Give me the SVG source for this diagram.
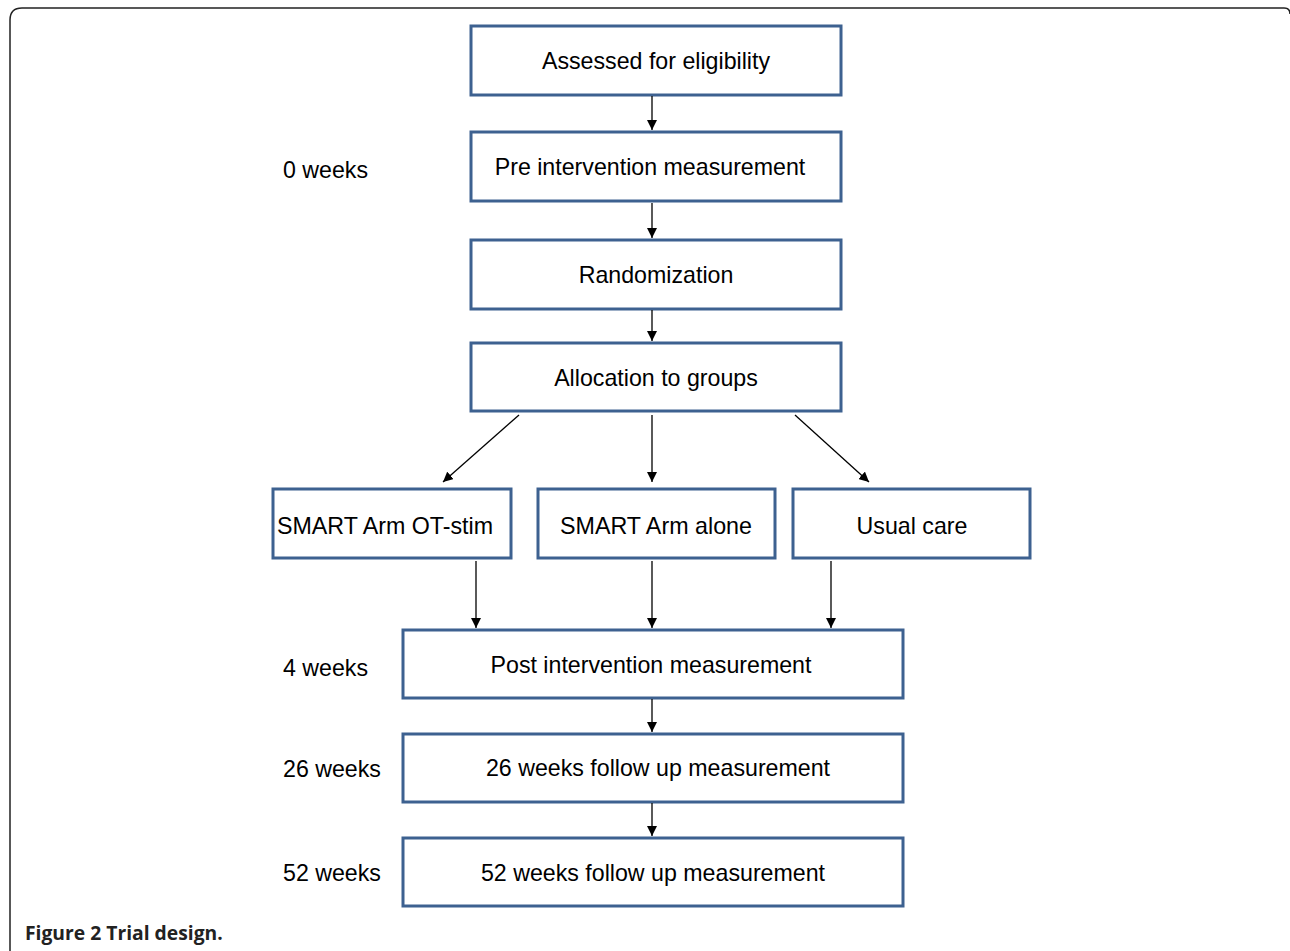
<svg xmlns="http://www.w3.org/2000/svg" width="1290" height="951" viewBox="0 0 1290 951">
<defs>
<marker id="ah" viewBox="0 0 10 10" refX="10" refY="5" markerWidth="10" markerHeight="10" markerUnits="userSpaceOnUse" orient="auto">
<path d="M0,0 L10,5 L0,10 z" fill="#000"/>
</marker>
<style>
.box{fill:#fff;stroke:#3d6190;stroke-width:3}
.t{font-family:"Liberation Sans",Arial,sans-serif;font-size:23.2px;fill:#000;text-anchor:middle}
.l{font-family:"Liberation Sans",Arial,sans-serif;font-size:23.2px;fill:#000}
.c{stroke:#000;stroke-width:1.3;fill:none;marker-end:url(#ah)}
</style>
</defs>
<rect width="1290" height="951" fill="#fff"/>
<path d="M10,951 L10,20 Q10,8 22,8 L1284,8 Q1290,8 1290,14" fill="none" stroke="#222" stroke-width="1.5"/>
<g id="n1"><rect class="box" x="471" y="26" width="370" height="69"/><text class="t" x="656" y="69">Assessed for eligibility</text></g>
<g id="n2"><rect class="box" x="471" y="132" width="370" height="69"/><text class="t" x="650" y="175">Pre intervention measurement</text></g>
<g id="n3"><rect class="box" x="471" y="240" width="370" height="69"/><text class="t" x="656" y="283">Randomization</text></g>
<g id="n4"><rect class="box" x="471" y="343" width="370" height="68"/><text class="t" x="656" y="386">Allocation to groups</text></g>
<g id="n5"><rect class="box" x="273" y="489" width="238" height="69"/><text class="t" x="385" y="534" textLength="216" lengthAdjust="spacingAndGlyphs">SMART Arm OT-stim</text></g>
<g id="n6"><rect class="box" x="538" y="489" width="237" height="69"/><text class="t" x="656" y="534" textLength="192" lengthAdjust="spacingAndGlyphs">SMART Arm alone</text></g>
<g id="n7"><rect class="box" x="793" y="489" width="237" height="69"/><text class="t" x="912" y="534" textLength="111" lengthAdjust="spacingAndGlyphs">Usual care</text></g>
<g id="n8"><rect class="box" x="403" y="630" width="500" height="68"/><text class="t" x="651" y="673">Post intervention measurement</text></g>
<g id="n9"><rect class="box" x="403" y="734" width="500" height="68"/><text class="t" x="658" y="776">26 weeks follow up measurement</text></g>
<g id="n10"><rect class="box" x="403" y="838" width="500" height="68"/><text class="t" x="653" y="881">52 weeks follow up measurement</text></g>
<g id="labels">
<text class="l" x="283" y="178">0 weeks</text>
<text class="l" x="283" y="676">4 weeks</text>
<text class="l" x="283" y="777">26 weeks</text>
<text class="l" x="283" y="881">52 weeks</text>
<text x="25" y="940" font-family="'Open Sans','Noto Sans',sans-serif" font-weight="bold" font-size="19.3" fill="#222">Figure 2 Trial design.</text>
</g>
<g id="connectors">
<line class="c" x1="652" y1="96" x2="652" y2="130"/>
<line class="c" x1="652" y1="203" x2="652" y2="238"/>
<line class="c" x1="652" y1="310" x2="652" y2="341"/>
<line class="c" x1="519" y1="415" x2="443" y2="482"/>
<line class="c" x1="652" y1="415" x2="652" y2="482"/>
<line class="c" x1="795" y1="415" x2="869" y2="482"/>
<line class="c" x1="476" y1="561" x2="476" y2="628"/>
<line class="c" x1="652" y1="561" x2="652" y2="628"/>
<line class="c" x1="831" y1="561" x2="831" y2="628"/>
<line class="c" x1="652" y1="699" x2="652" y2="732"/>
<line class="c" x1="652" y1="803" x2="652" y2="836"/>
</g>
</svg>
